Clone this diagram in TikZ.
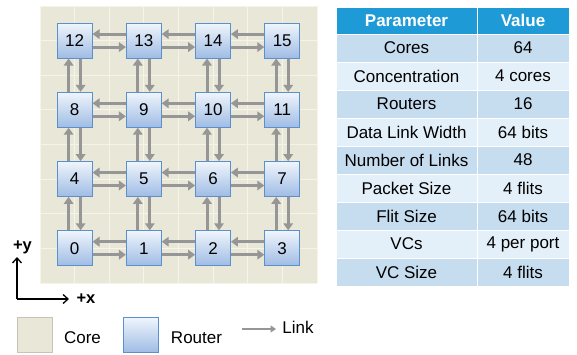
\documentclass[tikz,border=0pt]{standalone}
\usepackage{fontspec}
\setmainfont{Liberation Sans}
\usetikzlibrary{arrows.meta,positioning}

\definecolor{coreclr}{HTML}{E9E7D7}
\definecolor{gridclr}{HTML}{F6F4E6}
\definecolor{routertop}{HTML}{EFF5FC}
\definecolor{routerbot}{HTML}{9FBCE4}
\definecolor{routerline}{HTML}{5B90CC}
\definecolor{linkclr}{HTML}{969696}
\definecolor{headclr}{HTML}{1E9BD7}
\definecolor{rowA}{HTML}{C6DCEF}
\definecolor{rowB}{HTML}{E4F0F9}

\tikzset{
  router/.style={rectangle, draw=routerline, line width=0.8pt, top color=routertop,
    bottom color=routerbot, minimum size=35pt, inner sep=0pt, font=\fontsize{17}{20}\selectfont},
  corebox/.style={rectangle, draw=coreclr!85!black, line width=0.5pt, fill=coreclr,
    minimum size=35pt, inner sep=0pt},
  link/.style={draw=linkclr, line width=3pt, -{Triangle[length=7pt,width=9.5pt]}},
  eastlink/.style={link, transform canvas={yshift=-6.5pt}},
  westlink/.style={link, transform canvas={yshift=6.5pt}},
  northlink/.style={link, transform canvas={xshift=-6pt}},
  southlink/.style={link, transform canvas={xshift=6pt}},
  cell/.style={rectangle, draw=white, line width=1pt, minimum height=28pt, inner sep=0pt,
    font=\fontsize{17}{20}\selectfont},
  axis/.style={draw=black, line width=1.3pt, -{Straight Barb[length=5pt,width=9pt]}},
  keytext/.style={font=\fontsize{17}{20}\selectfont}
}

\begin{document}
\begin{tikzpicture}[x=1pt,y=-1pt,node distance=69.2pt]
  \useasboundingbox (0,0) rectangle (577,354);

  % cores
  \fill[coreclr] (40,6) rectangle (317,283);
  \foreach \k in {0,...,8}
  {
    \draw[gridclr, line width=1pt] (40+34.625*\k,6) -- (40+34.625*\k,283);
    \draw[gridclr, line width=1pt] (40,6+34.625*\k) -- (317,6+34.625*\k);
  }

  % routers
  \node[router] (r0) at (74.6,248.2) {0};
  \node[router] (r1)  [right of=r0]  {1};
  \node[router] (r2)  [right of=r1]  {2};
  \node[router] (r3)  [right of=r2]  {3};
  \node[router] (r4)  [above of=r0]  {4};
  \node[router] (r5)  [right of=r4]  {5};
  \node[router] (r6)  [right of=r5]  {6};
  \node[router] (r7)  [right of=r6]  {7};
  \node[router] (r8)  [above of=r4]  {8};
  \node[router] (r9)  [right of=r8]  {9};
  \node[router] (r10) [right of=r9]  {10};
  \node[router] (r11) [right of=r10] {11};
  \node[router] (r12) [above of=r8]  {12};
  \node[router] (r13) [right of=r12] {13};
  \node[router] (r14) [right of=r13] {14};
  \node[router] (r15) [right of=r14] {15};

  % links
  \path (r0) edge[eastlink] (r1)     (r1) edge[westlink] (r0)
        (r1) edge[eastlink] (r2)     (r2) edge[westlink] (r1)
        (r2) edge[eastlink] (r3)     (r3) edge[westlink] (r2)
        (r4) edge[eastlink] (r5)     (r5) edge[westlink] (r4)
        (r5) edge[eastlink] (r6)     (r6) edge[westlink] (r5)
        (r6) edge[eastlink] (r7)     (r7) edge[westlink] (r6)
        (r8) edge[eastlink] (r9)     (r9) edge[westlink] (r8)
        (r9) edge[eastlink] (r10)    (r10) edge[westlink] (r9)
        (r10) edge[eastlink] (r11)   (r11) edge[westlink] (r10)
        (r12) edge[eastlink] (r13)   (r13) edge[westlink] (r12)
        (r13) edge[eastlink] (r14)   (r14) edge[westlink] (r13)
        (r14) edge[eastlink] (r15)   (r15) edge[westlink] (r14)
        (r0) edge[northlink] (r4)    (r4) edge[southlink] (r0)
        (r4) edge[northlink] (r8)    (r8) edge[southlink] (r4)
        (r8) edge[northlink] (r12)   (r12) edge[southlink] (r8)
        (r1) edge[northlink] (r5)    (r5) edge[southlink] (r1)
        (r5) edge[northlink] (r9)    (r9) edge[southlink] (r5)
        (r9) edge[northlink] (r13)   (r13) edge[southlink] (r9)
        (r2) edge[northlink] (r6)    (r6) edge[southlink] (r2)
        (r6) edge[northlink] (r10)   (r10) edge[southlink] (r6)
        (r10) edge[northlink] (r14)  (r14) edge[southlink] (r10)
        (r3) edge[northlink] (r7)    (r7) edge[southlink] (r3)
        (r7) edge[northlink] (r11)   (r11) edge[southlink] (r7)
        (r11) edge[northlink] (r15)  (r15) edge[southlink] (r11);

  % axes
  \coordinate (origin) at (17,299);
  \coordinate (ytip) at (17,257);
  \coordinate (xtip) at (69,299);
  \draw[axis] (origin) -- (ytip);
  \draw[axis] (origin) -- (xtip);
  \node[font=\fontsize{16.5}{20}\selectfont\bfseries] (ylab) at (22.5,247) {+y};
  \node[font=\fontsize{16.5}{20}\selectfont\bfseries] (xlab) at (86,299) {+x};

  % legend
  \node[corebox] (corekey) at (34.5,335) {};
  \node[keytext] (coretext) at (82.5,338) {Core};
  \node[router] (routerkey) at (140.5,335) {};
  \node[keytext] (routertext) at (196.5,338) {Router};
  \coordinate (linkA) at (242,329);
  \coordinate (linkB) at (276,329);
  \draw[link, line width=2.2pt, -{Triangle[length=5.5pt,width=7pt]}] (linkA) -- (linkB);
  \node[keytext] (linktext) at (298,327) {Link};

  % table
  \node[cell, fill=headclr, minimum width=141pt, minimum height=27pt, text=white,
    font=\fontsize{17}{20}\selectfont\bfseries] (hpar) at (406.5,20.5) {Parameter};
  \node[cell, fill=headclr, minimum width=92pt, minimum height=27pt, text=white,
    font=\fontsize{17}{20}\selectfont\bfseries] (hval) at (523,20.5) {Value};
  \foreach \p/\v/\c [count=\i] in {Cores/64/rowA, Concentration/4 cores/rowB,
      Routers/16/rowA, Data Link Width/64 bits/rowB, Number of Links/48/rowA,
      Packet Size/4 flits/rowB, Flit Size/64 bits/rowA, VCs/4 per port/rowB,
      VC Size/4 flits/rowA}
  {
    \node[cell, fill=\c, minimum width=141pt] (par\i) at (406.5,20+28*\i) {\p};
    \node[cell, fill=\c, minimum width=92pt] (val\i) at (523,20+28*\i) {\v};
  }
\end{tikzpicture}
\end{document}
